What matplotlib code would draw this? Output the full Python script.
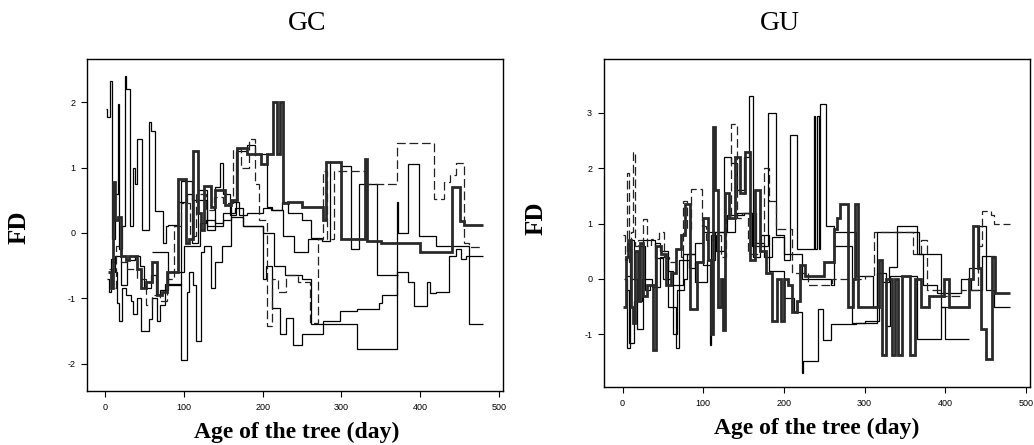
import numpy as np
import matplotlib.pyplot as plt

plt.rcParams['axes.unicode_minus'] = False

# step trajectories of FD against tree age (day); edges have one more entry than values
# ---- GC panel ----
gc_a_x = [1, 3, 6, 9, 12, 16, 18, 22, 25, 27, 31, 36, 38, 41, 47, 56, 58, 63, 73, 77,
          80, 92, 104, 110, 118, 130, 140, 146, 150, 158, 166, 180, 190, 205, 212, 226,
          240, 258, 274]
gc_a_y = [1.9, 1.78, 2.32, -0.1, 0.6, 1.97, -0.25, 0.1, 2.4, 2.2, 0.1, 1.0, 0.75, 1.43,
          0.05, 1.7, 1.56, 0.33, -0.15, 0.1, 0.12, 0.48, 0.6, -0.15, 0.65, 0.05, 0.7, 1.07,
          0.6, 0.28, 1.25, 1.35, 1.2, 0.4, 0.35, -0.05, -0.3, -0.1]

gc_b_x = [2, 5, 8, 12, 15, 18, 22, 26, 33, 36, 41, 46, 56, 60, 66, 70, 76, 85, 97, 104,
          107, 111, 116, 122, 126, 134, 140, 148, 160, 175, 200, 215, 228, 250, 262, 278,
          320, 370, 372, 384, 398, 420, 462, 480]
gc_b_y = [-0.7, -0.9, -0.4, -0.6, -1.08, -1.35, -0.85, -0.95, -1.05, -1.24, -1.0, -1.5,
          -1.32, -1.0, -1.35, -1.1, -0.78, -0.78, -1.95, -0.9, -0.6, -0.8, -1.65, -0.3,
          -0.2, -0.85, -0.45, -0.2, 0.25, 0.1, 0.0, -0.5, -0.65, -0.7, -1.4, -1.4, -1.78,
          0.47, 0.0, 1.05, -0.05, -0.2, -1.4]

gc_c_x = [4, 7, 10, 13, 17, 20, 26, 30, 40, 46, 52, 60, 66, 72, 78, 93, 103, 106, 111,
          118, 122, 126, 134, 140, 152, 160, 168, 180, 198, 206, 213, 218, 222, 226, 232,
          250, 276, 280, 300, 330, 332, 350, 400, 420, 440, 450, 456, 480]
gc_c_y = [-0.6, -0.85, 0.78, 0.2, 0.25, -0.35, -0.42, -0.35, -0.55, -0.85, -0.75, -0.45,
          -0.95, -0.9, -0.6, 0.82, -0.15, -0.1, 1.25, 0.3, 0.05, 0.72, 0.4, 0.65, 0.42, 0.5,
          1.3, 1.2, 1.05, 1.2, 2.0, 1.2, 2.0, 0.45, 0.48, 0.4, 0.2, 1.08, -0.1, 1.13, -0.12,
          -0.15, -0.3, -0.3, 0.7, 0.18, 0.12]

gc_d_x = [5, 9, 14, 20, 28, 40, 52, 60, 70, 78, 88, 96, 100, 108, 116, 128, 138, 150, 162,
          172, 183, 190, 196, 205, 212, 220, 230, 245, 260, 270, 276, 282, 290, 330, 370,
          418, 430, 438, 446, 455, 462, 480]
gc_d_y = [-0.55, -0.85, -0.2, -0.45, -0.55, -0.7, -1.1, -0.95, -1.05, -0.7, 0.1, 0.45,
          0.45, -0.05, 0.6, 0.35, 0.55, 0.45, 1.28, 1.0, 1.43, 0.75, 0.2, -1.42, -0.7, -0.9,
          -0.65, -0.75, -1.38, -0.1, 0.95, -0.1, 0.95, 0.75, 1.37, 0.52, 0.78, 0.88, 1.07,
          -0.15, -0.22]

gc_e_x = [8, 12, 20, 28, 38, 44, 50, 58, 64, 70, 80, 100, 120, 128, 140, 150, 165, 175,
          200, 204, 212, 222, 230, 238, 250, 276, 298, 320, 348, 352, 370, 385, 392, 408,
          412, 420, 436, 445, 452, 458, 480]
gc_e_y = [-0.45, -0.35, -0.8, -0.42, -0.35, -0.5, -0.85, -0.65, -0.95, -0.88, -0.6, -0.2,
          0.15, 0.2, 0.15, 0.3, 0.38, 0.1, -0.7, -0.5, -1.15, -1.55, -1.3, -1.72, -1.55,
          -1.35, -1.2, -1.16, -1.08, -0.95, -0.6, -0.75, -1.12, -0.75, -0.92, -0.9, -0.35,
          -0.25, -0.4, -0.35]

gc_f_x = [60, 80, 96, 110, 130, 150, 160, 170, 180, 200, 210, 225, 232, 250, 262, 275,
          285, 300, 312, 322, 330, 345, 356, 365, 372]
gc_f_y = [-0.3, -0.8, 0.8, 0.5, 0.1, 0.2, 0.48, 0.28, 0.3, 0.38, 0.35, 0.48, 0.3, 0.2,
          -0.08, -0.12, 1.08, 1.03, -0.25, 0.75, 0.75, -0.65, -0.65, -0.65]

# ---- GU panel ----
gu_a_x = [1, 3, 5, 8, 11, 13, 16, 19, 26, 30, 35, 45, 52, 58, 66, 72, 75, 80, 85, 98,
          104, 112, 122, 128, 135, 142, 148, 155, 170, 175, 182, 190, 210, 230, 260, 300,
          312, 360, 370, 378, 395, 420, 440, 445, 457, 460, 480]
gu_a_y = [0.8, 0.35, 1.92, 0.3, 0.85, 2.3, 0.6, 0.7, 1.08, 0.6, 0.72, 0.85, 0.4, 0.3,
          0.55, 0.4, 1.4, 0.9, 1.62, 0.95, 0.7, 0.8, 0.4, 1.1, 2.8, 1.1, 1.2, 0.45, 0.6,
          2.0, 1.4, 0.9, 0.1, -0.1, 0.0, 0.05, 0.85, 0.45, 0.7, -0.2, -0.3, -0.2, 0.6,
          1.22, 1.15, 1.0]

gu_b_x = [2, 6, 9, 14, 20, 28, 34, 40, 46, 56, 62, 66, 70, 82, 90, 100, 108, 110, 116,
          126, 134, 142, 150, 157, 162, 170, 180, 190, 200, 208, 216, 237, 239, 241, 243,
          245, 252, 262, 285, 300, 318, 322, 330, 340, 365, 375, 395, 410, 430, 442, 450,
          460, 480]
gu_b_y = [0.0, -1.25, 0.7, 0.0, 0.6, -0.2, -0.1, 0.65, 0.5, 0.15, -0.5, -1.25, 0.35,
          0.2, 0.3, 0.25, -1.2, 0.8, 0.5, 2.2, 2.1, 1.6, 2.2, 3.3, 0.4, 0.6, 3.0, 0.8, 0.35,
          2.6, 0.55, 2.95, 0.55, 2.95, 0.55, 3.15, 0.95, 0.6, -0.8, -0.75, 0.1, -0.05,
          0.22, 0.95, 0.45, 0.45, -0.5, -0.5, 0.2, 0.95, -0.2, -0.5]

gu_c_x = [1, 4, 7, 10, 13, 16, 19, 22, 25, 30, 38, 42, 48, 54, 60, 66, 72, 78, 84, 92,
          100, 106, 110, 112, 115, 118, 122, 125, 127, 132, 140, 146, 152, 158, 164, 170,
          178, 185, 192, 196, 200, 205, 210, 216, 220, 226, 250, 262, 266, 270, 280, 286,
          288, 292, 318, 322, 326, 334, 338, 342, 346, 356, 362, 370, 380, 398, 405, 430,
          435, 440, 444, 450, 458, 462, 480]
gu_c_y = [-0.5, 0.4, 0.7, -0.5, -0.8, 0.5, -0.4, 0.65, -0.3, -0.1, -1.28, 0.6, 0.45,
          -0.1, 0.1, 0.55, 0.8, 1.35, -0.55, 0.3, 1.1, 0.35, -1.0, 2.75, 1.6, -0.5, 0.0,
          -0.92, 1.55, 1.1, 2.2, 1.55, 2.3, 0.35, 1.6, 0.5, 0.1, -0.75, 0.0, -0.75, 0.0,
          -0.1, -0.6, -0.4, 0.25, 0.05, 0.3, 0.9, 1.1, 1.35, -0.5, 0.0, 1.35, -0.5, 0.35,
          -1.38, 0.0, -1.38, 0.0, -1.38, 0.05, -1.38, 0.0, -0.5, -0.3, 0.0, -0.5, 0.0,
          0.95, 0.2, -0.9, -1.45, 0.4, -0.25]

gu_d_x = [3, 8, 14, 24, 36, 46, 56, 62, 68, 76, 80, 90, 100, 120, 140, 160, 172, 182,
          200, 212, 222, 224, 242, 248, 258, 290, 300, 316, 326, 332, 365, 395, 400, 412,
          430]
gu_d_y = [-0.2, -1.15, -0.4, 0.0, -0.15, 0.4, -0.5, -1.0, -0.2, 0.0, 0.45, 0.65, 0.85,
          0.85, 1.2, 0.6, 0.8, 0.15, -0.35, -0.6, -1.7, -1.48, -0.55, -1.1, -0.82, -0.8,
          -0.8, 0.1, -0.85, 0.05, -1.08, -0.5, -1.08, -1.08]

gu_e_x = [5, 10, 18, 26, 40, 50, 60, 75, 90, 105, 115, 130, 150, 165, 175, 185, 200,
          222, 258, 262, 290, 310, 316, 340, 368, 372, 390, 420, 432, 446, 462]
gu_e_y = [0.05, 0.0, -0.9, 0.7, 0.38, 0.0, -0.1, 0.45, -0.05, 0.35, 0.85, 1.15, 1.2,
          0.65, 0.4, 0.75, 0.45, 0.0, -0.1, 0.85, 0.05, -0.5, 0.85, 0.85, 0.45, -0.1,
          -0.25, 0.0, -0.2, 0.42]

gc_ticks_y = [-2, -1, 0, 1, 2]
gu_ticks_y = [-1, 0, 1, 2, 3]
x_ticks = [0, 100, 200, 300, 400, 500]

# line styles: thin solid, thick grey-black, long dashes
thin = dict(color='black', lw=0.9)
thick = dict(color='#2a2a2a', lw=2.0)
dashed = dict(color='#222222', lw=0.9, linestyle=(0, (7, 3)))

fig = plt.figure(figsize=(10.34, 4.45), dpi=100)
ax1 = fig.add_axes([0.0841, 0.1213, 0.4023, 0.746])
ax2 = fig.add_axes([0.5841, 0.1303, 0.412, 0.737])

panels = [
    (ax1, [(gc_a_x, gc_a_y, thin), (gc_b_x, gc_b_y, thin), (gc_e_x, gc_e_y, thin),
           (gc_f_x, gc_f_y, thin), (gc_d_x, gc_d_y, dashed), (gc_c_x, gc_c_y, thick)],
     gc_ticks_y, (-2.42, 2.66)),
    (ax2, [(gu_b_x, gu_b_y, thin), (gu_d_x, gu_d_y, thin), (gu_e_x, gu_e_y, thin),
           (gu_a_x, gu_a_y, dashed), (gu_c_x, gu_c_y, thick)],
     gu_ticks_y, (-1.95, 3.97)),
]

for ax, series, yt, ylim in panels:
    for xs, ys, st in series:
        ax.stairs(ys, xs, baseline=None, **st)
    ax.set_xlim(-23, 505)
    ax.set_ylim(*ylim)
    ax.set_xticks(x_ticks)
    ax.set_yticks(yt)
    ax.tick_params(direction='out', length=4.5, width=0.8, pad=4,
                   labelsize=6.5, top=False, right=False)
    for lab in ax.get_xticklabels() + ax.get_yticklabels():
        lab.set_family('Liberation Sans')
    for sp in ax.spines.values():
        sp.set_linewidth(1.0)

serif = 'Liberation Serif'
fig.text(0.297, 0.948, 'GC', ha='center', va='center', fontsize=20, family=serif)
fig.text(0.754, 0.948, 'GU', ha='center', va='center', fontsize=20, family=serif)
fig.text(0.018, 0.49, 'FD', rotation=90, ha='center', va='center', fontsize=18,
         family=serif, fontweight='bold')
fig.text(0.518, 0.51, 'FD', rotation=90, ha='center', va='center', fontsize=18,
         family=serif, fontweight='bold')
fig.text(0.287, 0.028, 'Age of the tree (day)', ha='center', va='center', fontsize=17,
         family=serif, fontweight='bold')
fig.text(0.79, 0.038, 'Age of the tree (day)', ha='center', va='center', fontsize=17,
         family=serif, fontweight='bold')

fig.savefig('out.png', dpi=100)
